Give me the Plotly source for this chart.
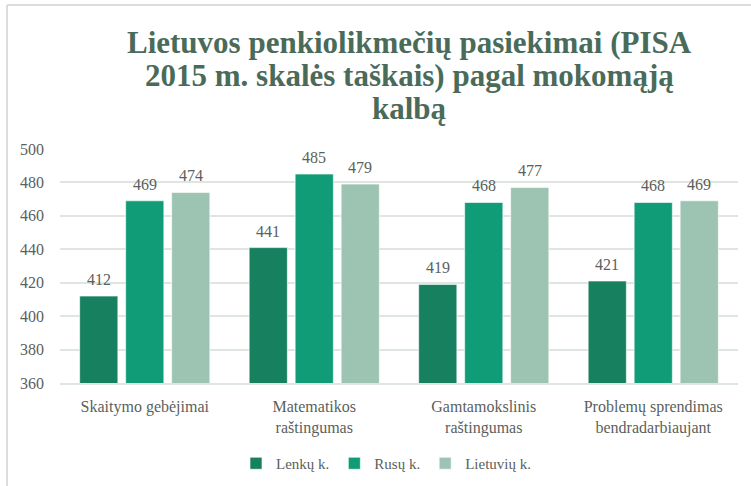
import plotly.graph_objects as go

title_lines = ["Lietuvos penkiolikmečių pasiekimai (PISA", "2015 m. skalės taškais) pagal mokomąją", "kalbą"]
categories = ["Skaitymo gebėjimai", "Matematikos<br>raštingumas", "Gamtamokslinis<br>raštingumas", "Problemų sprendimas<br>bendradarbiaujant"]
series_names = ["Lenkų k.", "Rusų k.", "Lietuvių k."]
lenku = [412, 441, 419, 421]
rusu = [469, 485, 468, 468]
lietuviu = [474, 479, 477, 469]
y_ticks = [360, 380, 400, 420, 440, 460, 480, 500]

colors = ["#16805f", "#0f9c76", "#9dc3b3"]
serif = "Liberation Serif, Times New Roman, serif"
txt = "#5b5f5d"
BARGAP = 0.186

fig = go.Figure()
all_series = [lenku, rusu, lietuviu]
for name, vals, col in zip(series_names, all_series, colors):
    fig.add_trace(go.Bar(
        x=list(range(len(categories))), y=vals, name=name,
        marker=dict(color=col, line=dict(color="rgba(255,255,255,0.6)", width=1)),
        hoverinfo="skip",
    ))

# value labels placed above each bar through the axis scales
slot = (1 - BARGAP) / len(all_series)
for j, vals in enumerate(all_series):
    for i, v in enumerate(vals):
        fig.add_annotation(x=i + (j - 1) * slot, y=v, xref="x", yref="y", text=str(v),
                           showarrow=False, yanchor="bottom", xanchor="center", yshift=6,
                           font=dict(family=serif, size=16, color=txt))

W, H = 751, 486
fig.update_layout(
    width=W, height=H,
    margin=dict(l=60, r=13, t=149, b=103, autoexpand=False),
    paper_bgcolor="white", plot_bgcolor="white",
    barmode="group", bargap=BARGAP, bargroupgap=0.17,
    font=dict(family=serif, color=txt),
    yaxis=dict(range=[360, 500], tickvals=y_ticks, showgrid=True, gridcolor="#dfe6e2", gridwidth=1.5,
               zeroline=False, showline=False, tickfont=dict(family=serif, size=16, color=txt),
               ticks="", ticklabelstandoff=15),
    xaxis=dict(showline=True, linecolor="#dfe6e2", linewidth=1.5, ticks="",
               tickvals=list(range(len(categories))), ticktext=categories,
               range=[-0.5, len(categories) - 0.5],
               tickfont=dict(family=serif, size=16, color=txt), ticklabelstandoff=8),
    legend=dict(orientation="h", x=386/W, xanchor="center", xref="container",
                y=1-447/H, yanchor="top", yref="container",
                font=dict(family=serif, size=15, color=txt), itemwidth=30, traceorder="normal"),
    showlegend=True,
)
for i, line in enumerate(title_lines):
    fig.add_annotation(text="<b>" + line + "</b>", xref="paper", yref="paper",
                       x=(409 - 60) / 678, y=(383 - (42 + 33.5 * i)) / 234,
                       xanchor="center", yanchor="middle", showarrow=False,
                       font=dict(family=serif, size=31, color="#4a6b5a"))
fig.add_shape(type="line", xref="paper", yref="paper", x0=(7-60)/678, x1=(7-60)/678, y0=(383-490)/234, y1=(383-5)/234,
              line=dict(color="#d9dedb", width=2))
fig.add_shape(type="line", xref="paper", yref="paper", x0=(7-60)/678, x1=(760-60)/678, y0=(383-5)/234, y1=(383-5)/234,
              line=dict(color="#d9dedb", width=2))
fig.write_html("out.html", config={"displayModeBar": False},
               post_script="document.body.style.margin='0';document.body.style.overflow='hidden';")
